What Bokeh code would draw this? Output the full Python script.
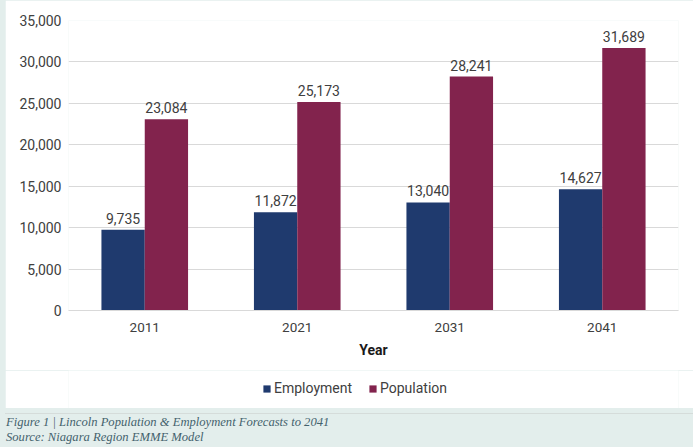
from bokeh.plotting import figure
from bokeh.models import (ColumnDataSource, FactorRange, Range1d, NumeralTickFormatter,
                          LabelSet, Legend, LegendItem, FixedTicker, Div)
from bokeh.core.properties import value
from bokeh.transform import dodge
from bokeh.layouts import column
from bokeh.embed import file_html
from bokeh.resources import INLINE

years = ["2011", "2021", "2031", "2041"]
employment = [9735, 11872, 13040, 14627]
population = [23084, 25173, 28241, 31689]
series_names = ["Employment", "Population"]
caption_lines = ["Figure 1 | Lincoln Population &amp; Employment Forecasts to 2041",
                 "Source: Niagara Region EMME Model"]

EMP_C = "#1f3a6e"
POP_C = "#82234d"
TXT = "#404040"
FONT = "Roboto"
BAND = "#e3eeec"

src = ColumnDataSource(dict(
    years=years, emp=employment, pop=population,
    emp_lbl=[f"{v:,}" for v in employment],
    pop_lbl=[f"{v:,}" for v in population],
))

p = figure(x_range=FactorRange(*years), y_range=Range1d(0, 35000),
           width=688, height=370, output_backend="svg", toolbar_location=None,
           min_border_left=63, min_border_right=15, min_border_top=20, min_border_bottom=60)
p.margin = (0, 0, 0, 5)
p.outline_line_color = None
p.background_fill_color = "white"
p.border_fill_color = "white"
p.x_range.range_padding = 0

bw = 0.284
r1 = p.vbar(x=dodge("years", -bw / 2, range=p.x_range), top="emp", width=bw,
            source=src, fill_color=EMP_C, line_color=None)
r2 = p.vbar(x=dodge("years", bw / 2, range=p.x_range), top="pop", width=bw,
            source=src, fill_color=POP_C, line_color=None)

for col, lbl, off in (("emp", "emp_lbl", -bw / 2), ("pop", "pop_lbl", bw / 2)):
    ls = LabelSet(x=dodge("years", off, range=p.x_range), y=col, text=lbl, source=src,
                  text_align="center", text_baseline="bottom", y_offset=6,
                  text_font=value(FONT), text_font_size="14px", text_color=TXT)
    p.add_layout(ls)

p.yaxis.ticker = FixedTicker(ticks=[0, 5000, 10000, 15000, 20000, 25000, 30000, 35000])
p.yaxis.formatter = NumeralTickFormatter(format="0,0")
p.yaxis.axis_line_color = None
p.yaxis.major_tick_line_color = None
p.yaxis.minor_tick_line_color = None
p.yaxis.major_tick_out = 0
p.yaxis.major_tick_in = 0
p.yaxis.major_label_standoff = 7
p.yaxis.major_label_text_font = FONT
p.yaxis.major_label_text_font_size = "14px"
p.yaxis.major_label_text_color = TXT

p.xaxis.axis_line_color = "#d9d9d9"
p.xaxis.major_tick_line_color = None
p.xaxis.minor_tick_line_color = None
p.xaxis.major_tick_out = 0
p.xaxis.major_tick_in = 0
p.xaxis.major_label_standoff = 12
p.xaxis.major_label_text_font = FONT
p.xaxis.major_label_text_font_size = "13.5px"
p.xaxis.major_label_text_color = TXT
p.xaxis.axis_label = "Year"
p.xaxis.axis_label_text_font = FONT
p.xaxis.axis_label_text_font_style = "bold"
p.xaxis.axis_label_text_font_size = "14px"
p.xaxis.axis_label_text_color = "#1a1a1a"
p.xaxis.axis_label_standoff = 7

p.xgrid.grid_line_color = None
p.ygrid.grid_line_color = "#d9d9d9"
p.ygrid.grid_line_width = 1

# legend strip
lg = figure(width=688, height=38, output_backend="svg", toolbar_location=None,
            x_range=Range1d(0, 1), y_range=Range1d(0, 1),
            x_axis_location=None, y_axis_location=None, min_border=0)
lg.margin = (0, 0, 0, 5)
lg.grid.visible = False
lg.outline_line_color = None
lg.background_fill_color = "white"
lg.border_fill_color = "white"
e1 = lg.vbar(x=[0], top=[0], width=0, fill_color=EMP_C, line_color=None)
e2 = lg.vbar(x=[0], top=[0], width=0, fill_color=POP_C, line_color=None)
legend = Legend(items=[LegendItem(label=series_names[0], renderers=[e1]),
                       LegendItem(label=series_names[1], renderers=[e2])],
                orientation="horizontal", location=(194, 12),
                label_text_font=FONT, label_text_font_size="14px", label_text_color=TXT,
                glyph_width=9, glyph_height=9, label_standoff=3, spacing=16,
                padding=0, margin=0, border_line_color=None, background_fill_alpha=0)
lg.add_layout(legend)

cap = Div(text="<br>".join(caption_lines), width=693, height=39,
          styles={"background-color": BAND, "font-family": "Liberation Serif",
                  "font-style": "italic", "font-size": "12.6px", "color": "#43626c",
                  "line-height": "15px", "padding": "1px 0 0 1px", "box-sizing": "border-box",
                  "border-top": "1px solid #d5dcda"})

layout = column(p, lg, cap, spacing=0)
layout.styles = {"background-color": BAND}
open("out.html", "w").write(file_html(layout, INLINE))
